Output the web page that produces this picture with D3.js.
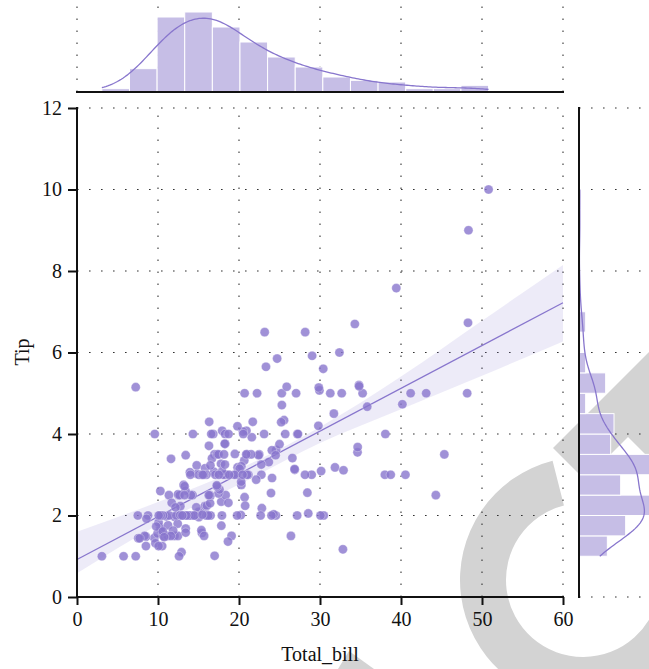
<!DOCTYPE html>
<html><head><meta charset="utf-8">
<script src="https://cdn.jsdelivr.net/npm/d3@7"></script>
<style>
body{margin:0;background:#fff}
svg text{font-family:"Liberation Serif","DejaVu Serif",serif;fill:#111}
</style>
</head><body><svg id="c" width="649" height="669"></svg>
<script>
// ---- data (tips dataset as shown) ----
const totalBill = [16.99,10.34,21.01,23.68,24.59,25.29,8.77,26.88,15.04,14.78,10.27,35.26,15.42,18.43,14.83,21.58,10.33,16.29,16.97,20.65,17.92,20.29,15.77,39.42,19.82,17.81,13.37,12.69,21.7,19.65,9.55,18.35,15.06,20.69,17.78,24.06,16.31,16.93,18.69,31.27,16.04,17.46,13.94,9.68,30.4,18.29,22.23,32.4,28.55,18.04,12.54,10.29,34.81,9.94,25.56,19.49,38.01,26.41,11.24,48.27,20.29,13.81,11.02,18.29,17.59,20.08,16.45,3.07,20.23,15.01,12.02,17.07,26.86,25.28,14.73,10.51,17.92,27.2,22.76,17.29,19.44,16.66,10.07,32.68,15.98,34.83,13.03,18.28,24.71,21.16,28.97,22.49,5.75,16.32,22.75,40.17,27.28,12.03,21.01,12.46,11.35,15.38,44.3,22.42,20.92,15.36,20.49,25.21,18.24,14.31,14.0,7.25,38.07,23.95,25.71,17.31,29.93,10.65,12.43,24.08,11.69,13.42,14.26,15.95,12.48,29.8,8.52,14.52,11.38,22.82,19.08,20.27,11.17,12.26,18.26,8.51,10.33,14.15,16.0,13.16,17.47,34.3,41.19,27.05,16.43,8.35,18.64,11.87,9.78,7.51,14.07,13.13,17.26,24.55,19.77,29.85,48.17,25.0,13.39,16.49,21.5,12.66,16.21,13.81,17.51,24.52,20.76,31.71,10.59,10.63,50.81,15.81,7.25,31.85,16.82,32.9,17.89,14.48,9.6,34.63,34.65,23.33,45.35,23.17,40.55,20.69,20.9,30.46,18.15,23.1,15.69,19.81,28.44,15.48,16.58,7.56,10.34,43.11,13.0,13.51,18.71,12.74,13.0,16.4,20.53,16.47,26.59,38.73,24.27,12.76,30.06,25.89,48.33,13.27,28.17,12.9,28.15,11.59,7.74,30.14,12.16,13.42,8.58,15.98,13.42,16.27,10.09,20.45,13.28,22.12,24.01,15.69,11.61,10.77,15.53,10.07,12.6,32.83,35.83,29.03,27.18,22.67,17.82,18.78];
const tip = [1.01,1.66,3.5,3.31,3.61,4.71,2.0,3.12,1.96,3.23,1.71,5.0,1.57,3.0,3.02,3.92,1.67,3.71,3.5,3.35,4.08,2.75,2.23,7.58,3.18,2.34,2.0,2.0,4.3,3.0,1.45,2.5,3.0,2.45,3.27,3.6,2.0,3.07,2.31,5.0,2.24,2.54,3.06,1.32,5.6,3.0,5.0,6.0,2.05,3.0,2.5,2.6,5.2,1.56,4.34,3.51,3.0,1.5,1.76,6.73,3.21,2.0,1.98,3.76,2.64,3.15,2.47,1.0,2.01,2.09,1.97,3.0,3.14,5.0,2.2,1.25,3.08,4.0,3.0,2.71,3.0,3.4,1.83,5.0,2.03,5.17,2.0,4.0,5.85,3.0,3.0,3.5,1.0,4.3,3.25,4.73,4.0,1.5,3.0,1.5,2.5,3.0,2.5,3.48,4.08,1.64,4.06,4.29,3.76,4.0,3.0,1.0,4.0,2.55,4.0,3.5,5.07,1.5,1.8,2.92,2.31,1.68,2.5,2.0,2.52,4.2,1.48,2.0,2.0,2.18,1.5,2.83,1.5,2.0,3.25,1.25,2.0,2.0,2.0,2.75,3.5,6.7,5.0,5.0,2.3,1.5,1.36,1.63,1.73,2.0,2.5,2.0,2.74,2.0,2.0,5.14,5.0,3.75,2.61,2.0,3.5,2.5,2.0,2.0,3.0,3.48,2.24,4.5,1.61,2.0,10.0,3.16,5.15,3.18,4.0,3.11,2.0,2.0,4.0,3.55,3.68,5.65,3.5,6.5,3.0,5.0,3.5,2.0,3.5,4.0,1.5,4.19,2.56,2.02,4.0,1.44,2.0,5.0,2.0,2.0,4.0,2.01,2.0,2.5,4.0,3.23,3.41,3.0,2.03,2.23,2.0,5.16,9.0,2.5,6.5,1.1,3.0,1.5,1.44,3.09,2.2,3.48,1.92,3.0,1.58,2.5,2.0,3.0,2.72,2.88,2.0,3.0,3.39,1.47,3.0,1.25,1.0,1.17,4.67,5.92,2.0,2.0,1.75,3.0];
const xTicks = [0,10,20,30,40,50,60];
const yTicks = [0,2,4,6,8,10,12];
// bootstrap confidence band of the regression
const ciX    = [0, 10, 20, 30, 40, 50, 60];
const ciLow  = [0.58, 1.77, 2.76, 3.78, 4.61, 5.43, 6.27];
const ciHigh = [1.60, 2.33, 3.14, 4.17, 5.41, 6.78, 8.15];
const xLabel = "Total_bill";
const yLabel = "Tip";
const nBinsX = 14, binWidthY = 0.5;

// ---- layout ----
const purple = "#8876cd";
const barFill = "#c6bee6";
const svg = d3.select("#c");
const x = d3.scaleLinear().domain([0, 60]).range([77, 563]);
const y = d3.scaleLinear().domain([0, 12]).range([597, 108]);

// watermark (background)
const wm = svg.append("g").attr("fill", "#d3d3d3");
wm.append("path")
  .attr("transform", "translate(583,580)")
  .attr("d", d3.arc()({innerRadius: 77, outerRadius: 123, startAngle: -0.25, endAngle: -4.6}));
wm.append("path").attr("d", "M553,448 L585,480 L628,437 L700,509 L700,301 Z");
wm.append("path").attr("d", "M349,651 L338,669 L374,669 Z");

// ---- grid ----
const grid = svg.append("g").attr("stroke", "#333").attr("stroke-width", 1.1)
  .attr("stroke-dasharray", "1.6,10.4").attr("fill", "none");
xTicks.forEach(t => {
  grid.append("line").attr("x1", x(t)).attr("x2", x(t)).attr("y1", 597).attr("y2", 108);
  grid.append("line").attr("x1", x(t)).attr("x2", x(t)).attr("y1", 92).attr("y2", 0);
});
yTicks.forEach(t => {
  grid.append("line").attr("x1", 77).attr("x2", 563).attr("y1", y(t)).attr("y2", y(t));
  grid.append("line").attr("x1", 579).attr("x2", 649).attr("y1", y(t)).attr("y2", y(t));
});

// ---- regression ----
const n = totalBill.length;
const mx = d3.mean(totalBill), my = d3.mean(tip);
let sxy = 0, sxx = 0;
for (let i = 0; i < n; i++) { sxy += (totalBill[i]-mx)*(tip[i]-my); sxx += (totalBill[i]-mx)**2; }
const slope = sxy / sxx, intercept = my - slope*mx;

const band = ciX.map((v, i) => ({x: v, lo: ciLow[i], hi: ciHigh[i]}));
svg.append("path").datum(band)
  .attr("fill", purple).attr("fill-opacity", 0.15)
  .attr("d", d3.area().x(d => x(d.x)).y0(d => y(d.lo)).y1(d => y(d.hi)).curve(d3.curveMonotoneX));
svg.append("line")
  .attr("x1", x(0)).attr("y1", y(intercept)).attr("x2", x(60)).attr("y2", y(intercept + slope*60))
  .attr("stroke", purple).attr("stroke-width", 1.3);

// ---- scatter ----
svg.append("g").selectAll("circle").data(d3.range(n)).join("circle")
  .attr("cx", i => x(totalBill[i])).attr("cy", i => y(tip[i])).attr("r", 4.6)
  .attr("fill", purple).attr("fill-opacity", 0.8)
  .attr("stroke", "#fff").attr("stroke-opacity", 0.45).attr("stroke-width", 0.7);

// ---- histograms ----
const bMin = d3.min(totalBill), bMax = d3.max(totalBill);
const bw = (bMax - bMin) / nBinsX;
const binsX = d3.bin().domain([bMin, bMax])
  .thresholds(d3.range(1, nBinsX).map(i => bMin + i*bw))(totalBill);
const tMin = d3.min(tip), tMax = d3.max(tip);
const nBinsY = Math.round((tMax - tMin) / binWidthY);
const binsY = d3.bin().domain([tMin, tMax])
  .thresholds(d3.range(1, nBinsY).map(i => tMin + i*binWidthY))(tip);

const maxC = d3.max(binsX, b => b.length);
const cTop = d3.scaleLinear().domain([0, maxC]).range([92, 12]);
const cRight = d3.scaleLinear().domain([0, maxC]).range([579, 659]);

svg.append("g").selectAll("rect").data(binsX).join("rect")
  .attr("x", b => x(b.x0)).attr("width", b => x(b.x1) - x(b.x0))
  .attr("y", b => cTop(b.length)).attr("height", b => 92 - cTop(b.length))
  .attr("fill", barFill).attr("stroke", "#fff").attr("stroke-width", 1);
svg.append("g").selectAll("rect").data(binsY).join("rect")
  .attr("y", b => y(b.x1)).attr("height", b => y(b.x0) - y(b.x1))
  .attr("x", 579).attr("width", b => cRight(b.length) - 579)
  .attr("fill", barFill).attr("stroke", "#fff").attr("stroke-width", 1);

// ---- KDEs (Gaussian, Scott bandwidth), scaled to counts ----
function kde(data, gridVals) {
  const h = d3.deviation(data) * Math.pow(data.length, -0.2);
  return gridVals.map(g => [g, d3.sum(data, v => Math.exp(-0.5*((g-v)/h)**2)) / (data.length*h*Math.sqrt(2*Math.PI))]);
}
const gx = d3.range(200).map(i => bMin + i*(bMax-bMin)/199);
const gy = d3.range(200).map(i => tMin + i*(tMax-tMin)/199);
svg.append("path").datum(kde(totalBill, gx))
  .attr("fill", "none").attr("stroke", purple).attr("stroke-width", 1.3)
  .attr("d", d3.line().x(d => x(d[0])).y(d => cTop(d[1]*n*bw)));
svg.append("path").datum(kde(tip, gy))
  .attr("fill", "none").attr("stroke", purple).attr("stroke-width", 1.3)
  .attr("d", d3.line().y(d => y(d[0])).x(d => cRight(d[1]*n*binWidthY)));

// ---- axes ----
const ax = svg.append("g").attr("transform", "translate(0,597)")
  .call(d3.axisBottom(x).tickValues(xTicks).tickSize(8).tickSizeOuter(0).tickPadding(7));
const ay = svg.append("g").attr("transform", "translate(77,0)")
  .call(d3.axisLeft(y).tickValues(yTicks).tickSize(9).tickSizeOuter(0).tickPadding(6));
[ax, ay].forEach(g => {
  g.select(".domain").remove();
  g.selectAll(".tick line").attr("stroke", "#111").attr("stroke-width", 2);
  g.selectAll(".tick text").attr("font-size", 20).attr("font-family", "Liberation Serif").attr("fill", "#111");
});
// spines
const sp = svg.append("g").attr("stroke", "#111").attr("stroke-width", 2);
sp.append("line").attr("x1", 77).attr("x2", 77).attr("y1", 107).attr("y2", 598);
sp.append("line").attr("x1", 76).attr("x2", 564).attr("y1", 597).attr("y2", 597);
sp.append("line").attr("x1", 76).attr("x2", 564).attr("y1", 92).attr("y2", 92);
sp.append("line").attr("x1", 579).attr("x2", 579).attr("y1", 107).attr("y2", 598);

// labels
svg.append("text").attr("x", 320).attr("y", 661).attr("text-anchor", "middle")
  .attr("font-size", 20).text(xLabel);
svg.append("text").attr("transform", "translate(29,352) rotate(-90)").attr("text-anchor", "middle")
  .attr("font-size", 20).text(yLabel);
</script>
</body></html>
